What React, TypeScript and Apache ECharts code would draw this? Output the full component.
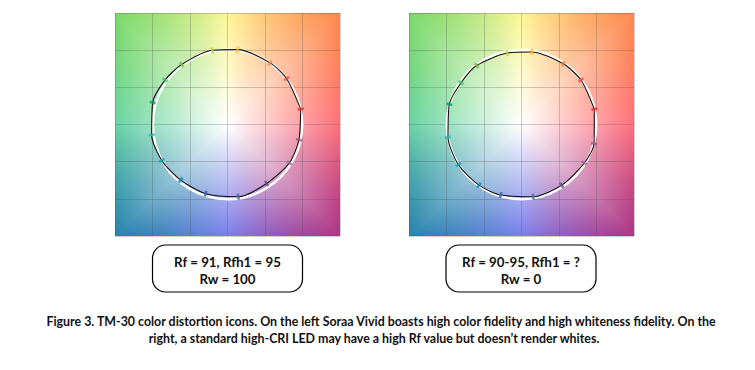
import React, { useEffect, useRef } from "react";
import * as echarts from "echarts";

// Axis range / grid ticks (CVG normalised coordinates)
const AXIS_MIN = -1.5;
const AXIS_MAX = 1.5;
const AXIS_STEP = 0.5;

// TM-30 hue-bin colours (bins 1..16)
const BIN_COLORS = [
  "#E62828", "#E74B4B", "#FB812E", "#FFB529", "#CBCA46", "#7EB94C", "#41C06D", "#009C7C",
  "#16BCB0", "#00A4BF", "#0085C3", "#3B62AA", "#4568AE", "#6A4E85", "#9D69A1", "#A74F81",
];

// Left icon (Soraa Vivid) test vector per hue bin
const LEFT_X = [0.976, 0.789, 0.567, 0.136, -0.202, -0.611, -0.833, -0.998, -1.011, -0.878, -0.624, -0.291, 0.144, 0.522, 0.824, 0.953];
const LEFT_Y = [0.207, 0.616, 0.829, 1.007, 0.998, 0.807, 0.598, 0.296, -0.14, -0.482, -0.749, -0.931, -0.971, -0.793, -0.518, -0.207];

// Right icon (standard high-CRI LED) test vector per hue bin
const RIGHT_X = [0.971, 0.793, 0.558, 0.136, -0.189, -0.598, -0.807, -0.962, -0.98, -0.842, -0.567, -0.278, 0.158, 0.536, 0.838, 0.967];
const RIGHT_Y = [0.207, 0.598, 0.816, 0.976, 0.962, 0.793, 0.562, 0.273, -0.171, -0.54, -0.816, -0.949, -0.971, -0.816, -0.518, -0.26];

// Reference circle: centre x, centre y, radius
const REF_CIRCLE = [[0, 0, 1]];

// Background hue anchors (angle in degrees, rgb at the square's edge)
const HUE_ANGLES = [0, 45, 90, 135, 180, 225, 270, 315];
const HUE_COLORS = [
  [255, 112, 124], [255, 136, 76], [255, 246, 150], [122, 216, 104],
  [104, 212, 164], [38, 132, 172], [122, 126, 236], [172, 52, 134],
];

const LABEL_LEFT = ["Rf = 91, Rfh1 = 95", "Rw = 100"];
const LABEL_RIGHT = ["Rf = 90-95, Rfh1 = ?", "Rw = 0"];
const CAPTION = [
  "Figure 3. TM-30 color distortion icons. On the left Soraa Vivid boasts high color fidelity and high whiteness fidelity. On the",
  "right, a standard high-CRI LED may have a high Rf value but doesn\u2019t render whites.",
];

function makeBackground(w: number, h: number): string {
  const cv = document.createElement("canvas");
  cv.width = w;
  cv.height = h;
  const ctx = cv.getContext("2d");
  if (!ctx) return "";
  const img = ctx.createImageData(w, h);
  const n = HUE_ANGLES.length;
  for (let py = 0; py < h; py++) {
    for (let px = 0; px < w; px++) {
      const x = ((px + 0.5) / w) * 3 - 1.5;
      const y = 1.5 - ((py + 0.5) / h) * 3;
      let a = (Math.atan2(y, x) * 180) / Math.PI;
      if (a < 0) a += 360;
      const r = Math.hypot(x, y);
      const c = Math.abs(Math.cos((a * Math.PI) / 180));
      const s = Math.abs(Math.sin((a * Math.PI) / 180));
      const R = 1.5 / Math.max(c, s);
      const t = Math.min(1, r / R);
      const i0 = Math.floor(a / 45) % n;
      const i1 = (i0 + 1) % n;
      const f = (a - HUE_ANGLES[i0]) / 45;
      const o = (py * w + px) * 4;
      for (let k = 0; k < 3; k++) {
        const hc = HUE_COLORS[i0][k] * (1 - f) + HUE_COLORS[i1][k] * f;
        img.data[o + k] = Math.round(255 + (hc - 255) * t);
      }
      img.data[o + 3] = 255;
    }
  }
  ctx.putImageData(img, 0, 0);
  return cv.toDataURL("image/png");
}

export default function App() {
  const ref = useRef<HTMLDivElement>(null);

  useEffect(() => {
    if (!ref.current) return;
    const chart = echarts.init(ref.current, undefined, { renderer: "svg" });
    const bg = makeBackground(225, 223);

    const grids = [
      { left: 115, top: 13, width: 225, height: 223 },
      { left: 409, top: 13, width: 225, height: 223 },
    ];

    const axisBase = {
      type: "value",
      min: AXIS_MIN,
      max: AXIS_MAX,
      interval: AXIS_STEP,
      z: 1,
      axisLine: { show: false },
      axisTick: { show: false },
      axisLabel: { show: false },
      splitLine: { show: true, lineStyle: { color: "rgba(80,80,80,0.28)", width: 1 } },
    };

    const panels = [
      { xs: LEFT_X, ys: LEFT_Y },
      { xs: RIGHT_X, ys: RIGHT_Y },
    ];

    const series: any[] = [];
    panels.forEach((p, gi) => {
      // background colour field
      series.push({
        type: "custom",
        xAxisIndex: gi,
        yAxisIndex: gi,
        z: 0,
        silent: true,
        clip: false,
        data: [[AXIS_MIN, AXIS_MAX, AXIS_MAX, AXIS_MIN]],
        renderItem: (params: any, api: any) => {
          const p0 = api.coord([api.value(0), api.value(1)]);
          const p1 = api.coord([api.value(2), api.value(3)]);
          return {
            type: "image",
            style: { image: bg, x: p0[0], y: p0[1], width: p1[0] - p0[0], height: p1[1] - p0[1] },
          };
        },
      });
      // reference circle
      series.push({
        type: "custom",
        xAxisIndex: gi,
        yAxisIndex: gi,
        z: 2,
        silent: true,
        data: REF_CIRCLE,
        renderItem: (params: any, api: any) => {
          const c = api.coord([api.value(0), api.value(1)]);
          const sz = api.size([api.value(2), api.value(2)]);
          return {
            type: "circle",
            shape: { cx: c[0], cy: c[1], r: (sz[0] + sz[1]) / 2 },
            style: { fill: "none", stroke: "#ffffff", lineWidth: 2.5 },
          };
        },
      });
      // distortion curve
      const pts = p.xs.map((x, i) => [x, p.ys[i]]);
      pts.push([p.xs[0], p.ys[0]]);
      series.push({
        type: "line",
        xAxisIndex: gi,
        yAxisIndex: gi,
        z: 3,
        data: pts,
        showSymbol: false,
        smooth: 0.25,
        silent: true,
        lineStyle: { color: "#111111", width: 1.1 },
      });
      // hue bin markers
      series.push({
        type: "scatter",
        xAxisIndex: gi,
        yAxisIndex: gi,
        z: 4,
        silent: true,
        symbol: "rect",
        symbolSize: [6, 2.6],
        data: p.xs.map((x, i) => ({
          value: [x, p.ys[i]],
          symbolRotate: (Math.atan2(p.ys[i], x) * 180) / Math.PI,
          itemStyle: { color: BIN_COLORS[i] },
        })),
      });
    });

    const font = "Lato, 'Open Sans', sans-serif";
    const box = (x: number, lines: string[]) => [
      {
        type: "rect",
        shape: { x, y: 245, width: 150, height: 47, r: 13 },
        style: { fill: "#ffffff", stroke: "#000000", lineWidth: 1.2 },
        z: 10,
      },
      {
        type: "text",
        x: x + 75,
        y: 262,
        z: 11,
        style: { text: lines[0], fill: "#111", font: `bold 13.3px ${font}`, textAlign: "center", textVerticalAlign: "middle" },
      },
      {
        type: "text",
        x: x + 75,
        y: 279,
        z: 11,
        style: { text: lines[1], fill: "#111", font: `bold 13.3px ${font}`, textAlign: "center", textVerticalAlign: "middle" },
      },
    ];

    chart.setOption({
      animation: false,
      grid: grids,
      xAxis: grids.map((_, i) => ({ ...axisBase, gridIndex: i })),
      yAxis: grids.map((_, i) => ({ ...axisBase, gridIndex: i })),
      series,
      graphic: [
        ...box(152.5, LABEL_LEFT),
        ...box(446, LABEL_RIGHT),
        {
          type: "text",
          x: 381,
          y: 321,
          style: { text: CAPTION[0], fill: "#111", font: `bold 12.4px ${font}`, textAlign: "center", textVerticalAlign: "middle" },
        },
        {
          type: "text",
          x: 374,
          y: 338,
          style: { text: CAPTION[1], fill: "#111", font: `bold 12.4px ${font}`, textAlign: "center", textVerticalAlign: "middle" },
        },
      ],
    });

    return () => chart.dispose();
  }, []);

  return <div ref={ref} style={{ width: 755, height: 370, position: "absolute", left: 0, top: 0 }} />;
}
